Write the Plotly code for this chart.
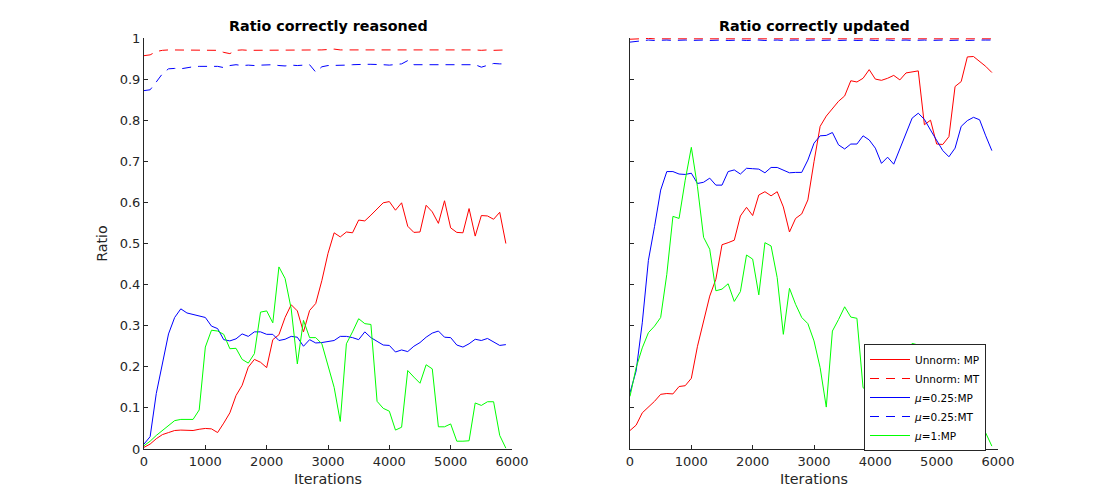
import plotly.graph_objects as go

iterations = [0, 100, 200, 300, 400, 500, 600, 700, 800, 900,
              1000, 1100, 1200, 1300, 1400, 1500, 1600, 1700, 1800, 1900,
              2000, 2100, 2200, 2300, 2400, 2500, 2600, 2700, 2800, 2900,
              3000, 3100, 3200, 3300, 3400, 3500, 3600, 3700, 3800, 3900,
              4000, 4100, 4200, 4300, 4400, 4500, 4600, 4700, 4800, 4900,
              5000, 5100, 5200, 5300, 5400, 5500, 5600, 5700, 5800, 5900]

# ---- Left panel: Ratio correctly reasoned ----
reason_unnorm_mp = [0.004, 0.012, 0.025, 0.035, 0.040, 0.045, 0.046, 0.046, 0.045, 0.048,
                    0.050, 0.049, 0.040, 0.063, 0.088, 0.130, 0.155, 0.199, 0.218, 0.211,
                    0.198, 0.266, 0.278, 0.320, 0.351, 0.336, 0.285, 0.337, 0.354, 0.410,
                    0.476, 0.526, 0.516, 0.528, 0.526, 0.557, 0.555, 0.569, 0.583, 0.599,
                    0.602, 0.581, 0.599, 0.542, 0.527, 0.528, 0.593, 0.577, 0.549, 0.604,
                    0.538, 0.527, 0.526, 0.585, 0.518, 0.568, 0.567, 0.559, 0.576, 0.500]
reason_unnorm_mt = [0.957, 0.959, 0.967, 0.970, 0.971, 0.971, 0.971, 0.971, 0.971, 0.971,
                    0.970, 0.971, 0.970, 0.965, 0.962, 0.970, 0.971, 0.970, 0.970, 0.971,
                    0.970, 0.970, 0.971, 0.971, 0.971, 0.971, 0.971, 0.971, 0.971, 0.971,
                    0.972, 0.973, 0.971, 0.971, 0.971, 0.971, 0.971, 0.971, 0.971, 0.971,
                    0.971, 0.972, 0.971, 0.971, 0.971, 0.971, 0.971, 0.971, 0.971, 0.971,
                    0.971, 0.971, 0.971, 0.972, 0.971, 0.970, 0.971, 0.970, 0.970, 0.971]
reason_mu025_mp = [0.012, 0.030, 0.135, 0.207, 0.280, 0.320, 0.341, 0.331, 0.327, 0.323,
                   0.320, 0.299, 0.293, 0.266, 0.263, 0.268, 0.280, 0.274, 0.285, 0.285,
                   0.279, 0.279, 0.264, 0.267, 0.274, 0.272, 0.250, 0.266, 0.258, 0.259,
                   0.261, 0.264, 0.274, 0.274, 0.271, 0.266, 0.285, 0.271, 0.262, 0.253,
                   0.252, 0.236, 0.241, 0.237, 0.250, 0.259, 0.272, 0.282, 0.287, 0.272,
                   0.271, 0.253, 0.248, 0.256, 0.267, 0.264, 0.269, 0.260, 0.252, 0.254]
reason_mu025_mt = [0.872, 0.874, 0.893, 0.913, 0.925, 0.926, 0.925, 0.928, 0.930, 0.931,
                   0.931, 0.932, 0.931, 0.928, 0.933, 0.935, 0.933, 0.934, 0.933, 0.934,
                   0.935, 0.935, 0.933, 0.932, 0.934, 0.933, 0.934, 0.935, 0.917, 0.930,
                   0.933, 0.933, 0.933, 0.934, 0.935, 0.936, 0.936, 0.936, 0.936, 0.935,
                   0.934, 0.936, 0.937, 0.945, 0.935, 0.935, 0.935, 0.936, 0.936, 0.935,
                   0.935, 0.936, 0.935, 0.936, 0.935, 0.929, 0.934, 0.938, 0.937, 0.937]
reason_mu1_mp = [0.008, 0.019, 0.033, 0.045, 0.055, 0.069, 0.072, 0.072, 0.072, 0.095,
                 0.248, 0.289, 0.287, 0.279, 0.244, 0.245, 0.218, 0.209, 0.232, 0.333,
                 0.336, 0.307, 0.443, 0.415, 0.341, 0.207, 0.313, 0.271, 0.271, 0.256,
                 0.200, 0.150, 0.067, 0.256, 0.285, 0.317, 0.305, 0.303, 0.116, 0.099,
                 0.092, 0.046, 0.053, 0.191, 0.175, 0.160, 0.205, 0.195, 0.054, 0.054,
                 0.061, 0.019, 0.019, 0.020, 0.112, 0.106, 0.115, 0.115, 0.033, 0.002]

# ---- Right panel: Ratio correctly updated ----
update_unnorm_mp = [0.045, 0.058, 0.088, 0.102, 0.116, 0.133, 0.135, 0.134, 0.152, 0.154,
                    0.172, 0.250, 0.315, 0.372, 0.413, 0.497, 0.502, 0.508, 0.567, 0.588,
                    0.568, 0.618, 0.626, 0.616, 0.626, 0.589, 0.528, 0.561, 0.572, 0.606,
                    0.699, 0.785, 0.810, 0.827, 0.846, 0.859, 0.896, 0.893, 0.902, 0.923,
                    0.900, 0.897, 0.902, 0.909, 0.898, 0.915, 0.917, 0.920, 0.789, 0.800,
                    0.742, 0.741, 0.760, 0.882, 0.894, 0.954, 0.955, 0.943, 0.931, 0.916]
update_unnorm_mt = [0.997, 0.998, 0.998, 0.999, 0.998, 0.998, 0.999, 0.998, 0.998, 0.999,
                    0.998, 0.998, 0.999, 0.998, 0.998, 0.999, 0.998, 0.998, 0.998, 0.999,
                    0.998, 0.998, 0.999, 0.998, 0.998, 0.999, 0.998, 0.998, 0.999, 0.998,
                    0.998, 0.999, 0.998, 0.998, 0.999, 0.998, 0.998, 0.999, 0.998, 0.998,
                    0.999, 0.998, 0.998, 0.999, 0.998, 0.998, 0.999, 0.998, 0.998, 0.999,
                    0.998, 0.998, 0.999, 0.998, 0.998, 0.999, 0.998, 0.999, 0.999, 0.998]
update_mu025_mp = [0.137, 0.190, 0.307, 0.459, 0.541, 0.630, 0.675, 0.675, 0.669, 0.668,
                   0.671, 0.646, 0.649, 0.659, 0.642, 0.642, 0.675, 0.679, 0.669, 0.683,
                   0.682, 0.681, 0.672, 0.685, 0.685, 0.679, 0.672, 0.673, 0.673, 0.703,
                   0.744, 0.762, 0.763, 0.770, 0.740, 0.730, 0.742, 0.742, 0.762, 0.752,
                   0.732, 0.695, 0.710, 0.693, 0.732, 0.768, 0.805, 0.817, 0.802, 0.776,
                   0.750, 0.726, 0.711, 0.732, 0.785, 0.799, 0.807, 0.801, 0.762, 0.726]
update_mu025_mt = [0.990, 0.992, 0.994, 0.995, 0.994, 0.995, 0.995, 0.994, 0.995, 0.995,
                   0.994, 0.995, 0.995, 0.994, 0.995, 0.995, 0.994, 0.995, 0.995, 0.994,
                   0.995, 0.995, 0.994, 0.995, 0.995, 0.994, 0.995, 0.995, 0.994, 0.995,
                   0.995, 0.994, 0.995, 0.995, 0.994, 0.995, 0.995, 0.994, 0.995, 0.995,
                   0.994, 0.995, 0.995, 0.994, 0.995, 0.995, 0.994, 0.995, 0.995, 0.994,
                   0.995, 0.995, 0.994, 0.995, 0.995, 0.994, 0.995, 0.995, 0.995, 0.995]
update_mu1_mp = [0.128, 0.198, 0.246, 0.283, 0.299, 0.320, 0.425, 0.566, 0.561, 0.654,
                 0.734, 0.638, 0.515, 0.486, 0.385, 0.389, 0.402, 0.359, 0.383, 0.472,
                 0.462, 0.375, 0.502, 0.494, 0.417, 0.279, 0.391, 0.352, 0.320, 0.305,
                 0.263, 0.198, 0.102, 0.287, 0.315, 0.346, 0.321, 0.318, 0.149, 0.140,
                 0.120, 0.100, 0.120, 0.150, 0.170, 0.222, 0.257, 0.253, 0.150, 0.120,
                 0.100, 0.090, 0.080, 0.070, 0.060, 0.060, 0.050, 0.060, 0.039, 0.007]

legend_names = ["Unnorm: MP", "Unnorm: MT", "<i>μ</i>=0.25:MP", "<i>μ</i>=0.25:MT", "<i>μ</i>=1:MP"]
y_ticks = [0, 0.1, 0.2, 0.3, 0.4, 0.5, 0.6, 0.7, 0.8, 0.9, 1]
y_tick_labels = ["0", "0.1", "0.2", "0.3", "0.4", "0.5", "0.6", "0.7", "0.8", "0.9", "1"]
x_ticks = [0, 1000, 2000, 3000, 4000, 5000, 6000]
x_tick_labels = ["0", "1000", "2000", "3000", "4000", "5000", "6000"]

RED = "#ff0000"
BLUE = "#0000ff"
GREEN = "#00ff00"
DASH = "9px,7px"
AX = "#262626"
FONT = "DejaVu Sans"

styles = [(RED, "solid"), (RED, DASH), (BLUE, "solid"), (BLUE, DASH), (GREEN, "solid")]

fig = go.Figure()

left_series = [reason_unnorm_mp, reason_unnorm_mt, reason_mu025_mp, reason_mu025_mt, reason_mu1_mp]
right_series = [update_unnorm_mp, update_unnorm_mt, update_mu025_mp, update_mu025_mt, update_mu1_mp]

for ys, name, (c, d) in zip(left_series, legend_names, styles):
    fig.add_trace(go.Scatter(x=iterations, y=ys, mode="lines", name=name, showlegend=False,
                             line=dict(color=c, width=1, dash=d), xaxis="x", yaxis="y"))
for ys, name, (c, d) in zip(right_series, legend_names, styles):
    fig.add_trace(go.Scatter(x=iterations, y=ys, mode="lines", name=name, showlegend=True,
                             line=dict(color=c, width=1, dash=d), xaxis="x2", yaxis="y2"))

W, H = 1105, 504
OFF = 8  # page body margin offset
L_x0, L_x1 = 144, 512
R_x0, R_x1 = 630, 998
Y_top, Y_bot = 38, 449

def xp(p):
    return (p - OFF) / W

def yp(p):
    return 1 - (p - OFF) / H

ydom = [yp(Y_bot), yp(Y_top)]

common_x = dict(range=[0, 6000], tickmode="array", tickvals=x_ticks, ticktext=x_tick_labels,
                ticks="inside", ticklen=4, tickcolor=AX, showline=True, linecolor=AX, linewidth=1,
                showgrid=False, zeroline=False, mirror=False, automargin=False,
                tickfont=dict(family=FONT, size=13, color=AX),
                title=dict(text="Iterations", font=dict(family=FONT, size=14.3, color=AX), standoff=6))
common_y = dict(range=[0, 1], tickmode="array", tickvals=y_ticks,
                ticks="inside", ticklen=4, tickcolor=AX, showline=True, linecolor=AX, linewidth=1,
                showgrid=False, zeroline=False, mirror=False, automargin=False,
                tickfont=dict(family=FONT, size=13, color=AX))

fig.update_layout(
    width=W, height=H,
    margin=dict(l=0, r=0, t=0, b=0, autoexpand=False),
    paper_bgcolor="white", plot_bgcolor="white",
    font=dict(family=FONT, color=AX),
    xaxis=dict(domain=[xp(L_x0), xp(L_x1)], anchor="y", **common_x),
    xaxis2=dict(domain=[xp(R_x0), xp(R_x1)], anchor="y2", **common_x),
    yaxis=dict(domain=ydom, anchor="x", ticktext=y_tick_labels,
               title=dict(text="Ratio", font=dict(family=FONT, size=14.3, color=AX), standoff=8),
               **common_y),
    yaxis2=dict(domain=ydom, anchor="x2", ticktext=["" for _ in y_ticks], **common_y),
    legend=dict(x=xp(864), y=yp(344), xanchor="left", yanchor="top",
                bgcolor="white", bordercolor=AX, borderwidth=1,
                font=dict(family=FONT, size=10.5, color="black"),
                tracegroupgap=0, itemwidth=40),
    annotations=[
        dict(text="<b>Ratio correctly reasoned</b>", x=xp((L_x0 + L_x1) / 2), y=yp(26),
             xref="paper", yref="paper", xanchor="center", yanchor="middle", showarrow=False,
             font=dict(family=FONT, size=14.3, color="black")),
        dict(text="<b>Ratio correctly updated</b>", x=xp((R_x0 + R_x1) / 2), y=yp(26),
             xref="paper", yref="paper", xanchor="center", yanchor="middle", showarrow=False,
             font=dict(family=FONT, size=14.3, color="black")),
    ],
)

fig.write_html("out.html")
